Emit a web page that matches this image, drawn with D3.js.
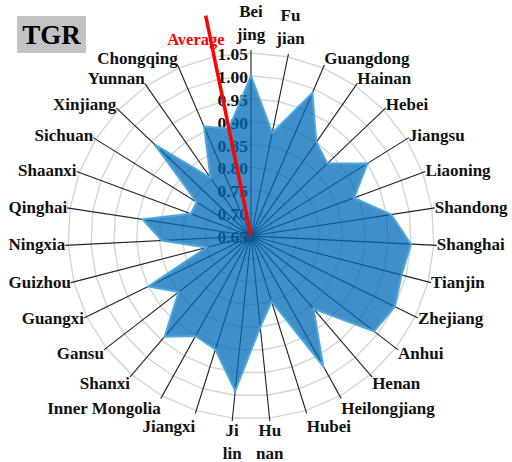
<!DOCTYPE html>
<meta charset="utf-8">
<title>TGR radar</title>
<style>
body { margin: 0; background: #fff; }
text { font-family: "Liberation Serif", "Times New Roman", serif; font-weight: bold; }
.tick { font-size: 17.5px; fill: #111; }
.cat { font-size: 17px; fill: #111; }
</style>
<svg id="chart" width="512" height="462"></svg>
<script src="https://d3js.org/d3.v7.min.js"></script>
<script>

// categories, clockwise from the top; the last spoke is the average
var categories = ["Bei\njing", "Fu\njian", "Guangdong", "Hainan", "Hebei", "Jiangsu", "Liaoning",
  "Shandong", "Shanghai", "Tianjin", "Zhejiang", "Anhui", "Henan", "Heilongjiang", "Hubei",
  "Hu\nnan", "Ji\nlin", "Jiangxi", "Inner Mongolia", "Shanxi", "Gansu", "Guangxi", "Guizhou",
  "Ningxia", "Qinghai", "Shaanxi", "Sichuan", "Xinjiang", "Yunnan", "Chongqing", "Average"];

var tgr = [1.00, 0.88, 0.99, 0.90, 0.88, 0.95, 0.89, 0.96, 1.00, 0.99, 1.00, 0.99, 0.86, 0.975, 0.80,
  0.85, 0.99, 0.91, 0.90, 0.94, 0.85, 0.90, 0.75, 0.845, 0.89, 0.79, 0.79, 0.94, 0.805, 0.91, 0.89];

var tickValues = [0.65, 0.70, 0.75, 0.80, 0.85, 0.90, 0.95, 1.00, 1.05];
var tickLabels = ["0.65", "0.70", "0.75", "0.80", "0.85", "0.90", "0.95", "1.00", "1.05"];

var svg = d3.select("#chart"),
    cx = 251, cy = 236,
    rMax = 183;

var r = d3.scaleLinear().domain([0.65, 1.05]).range([0, rMax]);
var angle = d3.scaleLinear().domain([0, categories.length]).range([0, 2 * Math.PI]);

var g = svg.append("g").attr("transform", "translate(" + cx + "," + cy + ")");

function pt(i, rad) {
  var a = angle(i);
  return [rad * Math.sin(a), -rad * Math.cos(a)];
}

// grid rings (polygons, like the spreadsheet radar)
var ring = d3.lineRadial()
    .angle(function(d, i) { return angle(i); })
    .radius(function(d) { return d; })
    .curve(d3.curveLinearClosed);

g.selectAll(".ring")
  .data(tickValues.slice(1))
  .enter().append("path")
    .attr("class", "ring")
    .attr("d", function(t) { return ring(categories.map(function() { return r(t); })); })
    .attr("fill", "none")
    .attr("stroke", "#d4d4d4")
    .attr("stroke-width", 1.4);

// spokes / leader lines
var spokes = d3.range(categories.length - 1);
g.selectAll(".spoke")
  .data(spokes)
  .enter().append("line")
    .attr("class", "spoke")
    .attr("x1", 0).attr("y1", 0)
    .attr("x2", function(i) { return pt(i, rMax + 3)[0]; })
    .attr("y2", function(i) { return pt(i, rMax + 3)[1]; })
    .attr("stroke", "#222")
    .attr("stroke-width", 1.1);

// tick labels sit under the translucent fill
g.selectAll(".tick")
  .data(tickValues)
  .enter().append("text")
    .attr("class", "tick")
    .attr("x", -3)
    .attr("y", function(t) { return -r(t) + 1; })
    .attr("text-anchor", "end")
    .attr("dominant-baseline", "central")
    .text(function(t, i) { return tickLabels[i]; });

// the series
var area = d3.lineRadial()
    .angle(function(d, i) { return angle(i); })
    .radius(function(d) { return r(d); })
    .curve(d3.curveLinearClosed);

g.append("path")
    .attr("d", area(tgr))
    .attr("fill", "rgb(0,106,182)")
    .attr("fill-opacity", 0.75)
    .attr("stroke", "#4aa8dc")
    .attr("stroke-width", 2)
    .attr("stroke-linejoin", "miter");

// category labels
spokes.forEach(function(i) {
  var a = angle(i), s = Math.sin(a), c = Math.cos(a);
  var lines = categories[i].split("\n");
  var t = g.append("text").attr("class", "cat");
  var p, anchor, y0;
  if (Math.abs(s) < 0.25) {
    anchor = "middle";
    if (c > 0) {
      p = pt(i, rMax + 13);
      y0 = p[1] - (lines.length - 1) * 23;
    } else {
      p = pt(i, rMax + 3);
      y0 = p[1] + 15;
    }
  } else {
    anchor = s > 0 ? "start" : "end";
    p = pt(i, rMax + 3);
    var off = c > 0 ? -Math.pow(c, 3) * 8 : -Math.pow(c, 3) * 16;
    y0 = p[1] + off + 5;
  }
  t.attr("text-anchor", anchor);
  lines.forEach(function(l, k) {
    t.append("tspan").attr("x", p[0]).attr("y", y0 + k * 23).text(l);
  });
});

// average spoke in red
var ai = categories.length - 1;
var aEnd = pt(ai, 225);
g.append("line")
    .attr("x1", 0).attr("y1", 0)
    .attr("x2", aEnd[0]).attr("y2", aEnd[1])
    .attr("stroke", "#ff0000")
    .attr("stroke-width", 3.5);

var aLab = pt(ai, 201);
g.append("text")
    .attr("x", aLab[0] + 14)
    .attr("y", aLab[1])
    .attr("text-anchor", "end")
    .attr("dominant-baseline", "central")
    .attr("fill", "#ff0000")
    .style("font-size", "16.5px")
    .text(categories[ai]);

// title box
svg.append("rect")
    .attr("x", 17).attr("y", 16)
    .attr("width", 69).attr("height", 37)
    .attr("fill", "#c3c3c3");
svg.append("text")
    .attr("x", 51.5).attr("y", 35)
    .attr("text-anchor", "middle")
    .attr("dominant-baseline", "central")
    .style("font-size", "27px")
    .attr("fill", "#000")
    .text("TGR");

</script>
